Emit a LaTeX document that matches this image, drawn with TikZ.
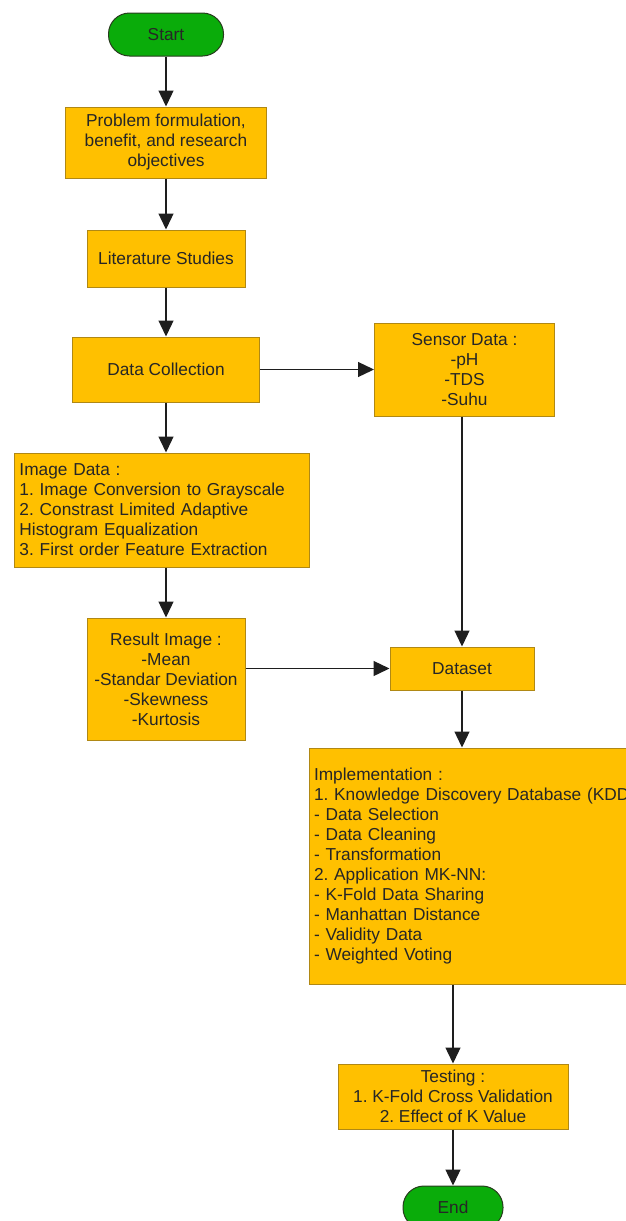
\documentclass[tikz,border=0pt]{standalone}
\usepackage{xcolor}
\usepackage{fontspec}
\setmainfont{Liberation Sans}
\usepackage{tikz}
\usetikzlibrary{shapes,arrows.meta,positioning,calc}

\definecolor{boxfill}{RGB}{255,192,0}
\definecolor{boxline}{RGB}{176,136,20}
\definecolor{termfill}{RGB}{10,172,10}
\definecolor{termline}{RGB}{40,60,30}
\definecolor{flowline}{RGB}{30,30,30}

\begin{document}
\frenchspacing
\begin{tikzpicture}[
    x=1pt, y=1pt,
    node distance=50pt,
    every node/.style={font=\fontsize{17.3}{20}\selectfont, text=black!85},
    terminal/.style={rectangle, rounded corners=21pt, draw=termline, line width=1pt, fill=termfill, minimum width=#1, minimum height=43pt, inner sep=0pt},
    process/.style={rectangle, draw=boxline, line width=1pt, fill=boxfill, align=center, inner sep=0pt},
    listbox/.style={rectangle, draw=boxline, line width=1pt, fill=boxfill, align=left, inner xsep=5pt, inner ysep=0pt},
    flow/.style={-{Triangle[length=16pt,width=15pt]}, line width=1.3pt, draw=flowline}
]
\useasboundingbox (0,0) rectangle (625,-1221);

\node[terminal=115pt] (start) at (166,-34.5) {Start};
\node[process, minimum width=201pt, minimum height=71pt, below=50pt of start] (problem) {Problem formulation,\\benefit, and research\\objectives};
\node[process, minimum width=158pt, minimum height=57pt, below=51pt of problem] (literature) {Literature Studies};
\node[process, minimum width=187pt, minimum height=65pt, below=49pt of literature] (collection) {Data Collection};
\node[process, minimum width=180pt, minimum height=93pt, right=114pt of collection] (sensor) {Sensor Data :\\-pH\\-TDS\\-Suhu};
\node[listbox, text width=285pt, minimum height=114pt, below=50pt of collection, xshift=-4pt] (image) {Image Data :\\1. Image Conversion to Grayscale\\2. Constrast Limited Adaptive\\Histogram Equalization\\3. First order Feature Extraction};
\node[process, minimum width=158pt, minimum height=122pt, below=50pt of image, xshift=4pt] (result) {Result Image :\\-Mean\\-Standar Deviation\\-Skewness\\-Kurtosis};
\node[process, minimum width=144pt, minimum height=43pt, right=144pt of result, yshift=10.5pt] (dataset) {Dataset};
\node[listbox, text width=330pt, minimum height=236pt, below=57pt of dataset, xshift=17pt] (implement) {Implementation :\\1. Knowledge Discovery Database (KDD)\\- Data Selection\\- Data Cleaning\\- Transformation\\2. Application MK-NN:\\- K-Fold Data Sharing\\- Manhattan Distance\\- Validity Data\\- Weighted Voting};
\node[process, minimum width=230pt, minimum height=65pt, below=79pt of implement, xshift=-26pt] (testing) {Testing :\\1. K-Fold Cross Validation\\2. Effect of K Value};
\node[terminal=100pt, below=56pt of testing] (end) {End};

\draw[flow] (start) -- (problem);
\draw[flow] (problem) -- (literature);
\draw[flow] (literature) -- (collection);
\draw[flow] (collection) -- (sensor);
\draw[flow] (collection.south) -- (collection.south |- image.north);
\draw[flow] (result.north |- image.south) -- (result);
\draw[flow] (result.east |- dataset) -- (dataset);
\draw[flow] (sensor.south -| dataset) -- (dataset);
\draw[flow] (dataset) -- (dataset |- implement.north);
\draw[flow] (testing |- implement.south) -- (testing);
\draw[flow] (testing) -- (end);

\end{tikzpicture}
\end{document}
